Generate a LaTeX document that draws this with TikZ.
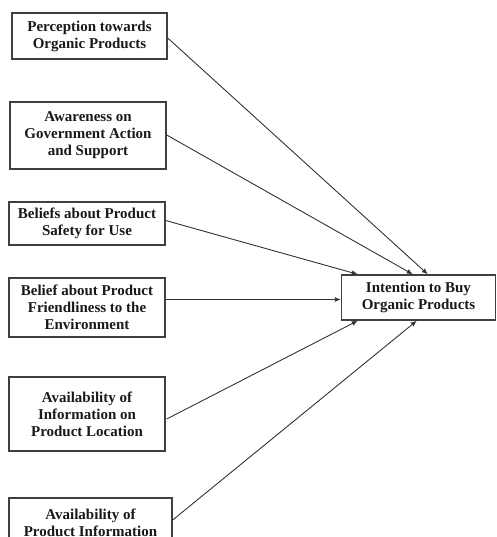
\documentclass[tikz,border=0pt]{standalone}
\usepackage{fontspec}
\setmainfont{Liberation Serif}
\usetikzlibrary{calc,arrows.meta}
\tikzset{
  box/.style={draw=black!75, line width=1.4pt, fill=white, align=center,
    font=\fontsize{15}{17}\selectfont\bfseries, text=black!90,
    inner sep=0pt},
  link/.style={draw=black!80, line width=0.9pt, -{Latex[length=6pt,width=5pt]}}
}
\begin{document}
\begin{tikzpicture}[x=1pt,y=-1pt]
\useasboundingbox (0,0) rectangle (496,537);
\node[box, minimum width=155pt, minimum height=46pt] (b1) at (89.5,36) {Perception towards\\Organic Products};
\node[box, minimum width=156pt, minimum height=67pt] (b2) at (88,135.5) {Awareness on\\Government Action\\and Support};
\node[box, minimum width=156pt, minimum height=43pt] (b3) at (87,223.5) {Beliefs about Product\\Safety for Use};
\node[box, minimum width=156pt, minimum height=59pt] (b4) at (87,307.5) {Belief about Product\\Friendliness to the\\Environment};
\node[box, minimum width=156pt, minimum height=74pt] (b5) at (87,414) {Availability of\\Information on\\Product Location};
\node[box, minimum width=163pt, minimum height=50pt] (b6) at (90.5,523) {Availability of\\Product Information};
\node[box, minimum width=154pt, minimum height=45pt] (t) at (418.5,297.5) {Intention to Buy\\Organic Products};

\draw[link] ($(b1.east)+(0,2)$) -- ($(t.north west)+(87,0)$);
\draw[link] ($(b2.east)+(0,-0.5)$) -- ($(t.north west)+(72,0)$);
\draw[link] ($(b3.east)+(0,-3)$) -- ($(t.north west)+(17,0)$);
\draw[link] ($(b4.east)+(0,-8)$) -- ($(t.west)+(0,2)$);
\draw[link] ($(b5.east)+(1,5)$) -- ($(t.south west)+(17,0)$);
\draw[link] ($(b6.east)+(0,-3)$) -- ($(t.south west)+(76,0)$);
\end{tikzpicture}
\end{document}
